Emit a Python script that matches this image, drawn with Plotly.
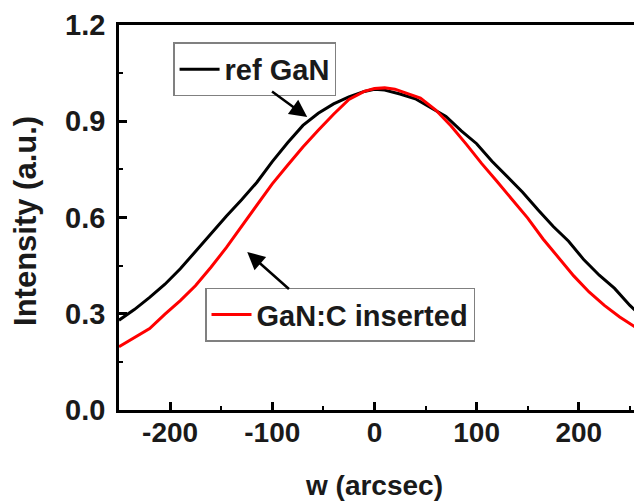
import plotly.graph_objects as go

# ---- data ----
x_ref = [-250, -235, -220, -205, -190, -175, -160, -145, -130, -115, -100, -85, -70, -55,
         -40, -25, -10, 0, 10, 25, 40, 55, 70, 85, 100, 115, 130, 145, 160, 175, 190,
         205, 220, 235, 250, 255]
y_ref = [0.280, 0.313, 0.351, 0.392, 0.440, 0.495, 0.552, 0.604, 0.655, 0.710, 0.774,
         0.833, 0.887, 0.925, 0.954, 0.976, 0.993, 1.000, 0.997, 0.985, 0.970, 0.942,
         0.915, 0.870, 0.830, 0.775, 0.727, 0.679, 0.624, 0.572, 0.526, 0.468, 0.420,
         0.379, 0.326, 0.311]

x_c = [-250, -235, -220, -205, -190, -175, -160, -145, -130, -115, -100, -85, -70, -55,
       -40, -25, -10, 0, 10, 20, 30, 45, 60, 75, 90, 105, 120, 135, 150, 165, 180, 195,
       210, 225, 240, 255]
y_c = [0.197, 0.226, 0.254, 0.299, 0.341, 0.388, 0.445, 0.506, 0.572, 0.638, 0.705,
       0.763, 0.820, 0.872, 0.922, 0.968, 0.993, 1.002, 1.004, 1.000, 0.988, 0.972,
       0.935, 0.885, 0.828, 0.768, 0.712, 0.655, 0.598, 0.533, 0.475, 0.418, 0.368,
       0.326, 0.290, 0.259]

name_ref = "ref GaN"
name_c = "GaN:C inserted"
x_ticks = [-200, -100, 0, 100, 200]
x_ticktext = ["-200", "-100", "0", "100", "200"]
y_ticks = [0.0, 0.3, 0.6, 0.9, 1.2]
y_ticktext = ["0.0", "0.3", "0.6", "0.9", "1.2"]
x_title = "w (arcsec)"
y_title = "Intensity (a.u.)"

FONT = "Liberation Sans, Arial, sans-serif"
TXT = "#1a1a1a"

fig = go.Figure()
fig.add_trace(go.Scatter(x=x_ref, y=y_ref, mode="lines", name=name_ref,
                         line=dict(color="black", width=3), legend="legend"))
fig.add_trace(go.Scatter(x=x_c, y=y_c, mode="lines", name=name_c,
                         line=dict(color="#ff0000", width=3), legend="legend2"))

legend_common = dict(xanchor="left", yanchor="top", bgcolor="rgba(255,255,255,0)",
                     bordercolor="#808080", borderwidth=1.5,
                     font=dict(family=FONT, size=29, color=TXT, weight="bold"),
                     itemwidth=40, tracegroupgap=0)

fig.update_layout(
    width=634, height=504,
    margin=dict(l=119, r=0, t=25, b=94, autoexpand=False),
    paper_bgcolor="white", plot_bgcolor="white",
    showlegend=True,
    legend=dict(x=0.105, y=0.955, **legend_common),
    legend2=dict(x=0.167, y=0.318, **legend_common),
    font=dict(family=FONT, color=TXT),
)

fig.update_xaxes(
    range=[-250, 254], tickvals=x_ticks, ticktext=x_ticktext, ticks="inside", ticklen=8,
    tickwidth=2.5, tickcolor="black", showline=True, linecolor="black", linewidth=2.5,
    mirror=True, showgrid=False, zeroline=False, automargin=False,
    tickfont=dict(family=FONT, size=28, color=TXT, weight="bold"),
    minor=dict(dtick=50, tick0=-250, ticks="inside", ticklen=4, tickwidth=2, tickcolor="black"),
    ticklabelstandoff=-4,
)
fig.update_yaxes(
    range=[0, 1.2], tickvals=y_ticks, ticktext=y_ticktext, ticks="inside", ticklen=8,
    tickwidth=2.5, tickcolor="black", showline=True, linecolor="black", linewidth=2.5,
    mirror=False, showgrid=False, zeroline=False, automargin=False,
    tickfont=dict(family=FONT, size=29, color=TXT, weight="bold"),
    minor=dict(dtick=0.15, tick0=0, ticks="inside", ticklen=4, tickwidth=2, tickcolor="black"),
    ticklabelstandoff=5,
)

# axis titles
fig.add_annotation(text=x_title, xref="paper", yref="paper", x=0.495, y=-0.195,
                   xanchor="center", yanchor="middle", showarrow=False,
                   font=dict(family=FONT, size=28, color=TXT, weight="bold"))
fig.add_annotation(text=y_title, xref="paper", yref="paper", x=-0.1806, y=0.491,
                   xanchor="center", yanchor="middle", showarrow=False, textangle=-90,
                   font=dict(family=FONT, size=31, color=TXT, weight="bold"))

# arrows pointing from the legends to the curves
fig.add_annotation(x=-65.8, y=0.913, ax=-101.7, ay=0.996, xref="x", yref="y",
                   axref="x", ayref="y", text="", showarrow=True, arrowhead=2,
                   arrowsize=1.4, arrowwidth=2.5, arrowcolor="black")
fig.add_annotation(x=-124.5, y=0.4925, ax=-82.2, ay=0.373, xref="x", yref="y",
                   axref="x", ayref="y", text="", showarrow=True, arrowhead=2,
                   arrowsize=1.4, arrowwidth=2.5, arrowcolor="black")

fig.write_html("out.html", config={"displayModeBar": False},
               post_script="document.body.style.margin='0px';document.body.style.padding='0px';")
